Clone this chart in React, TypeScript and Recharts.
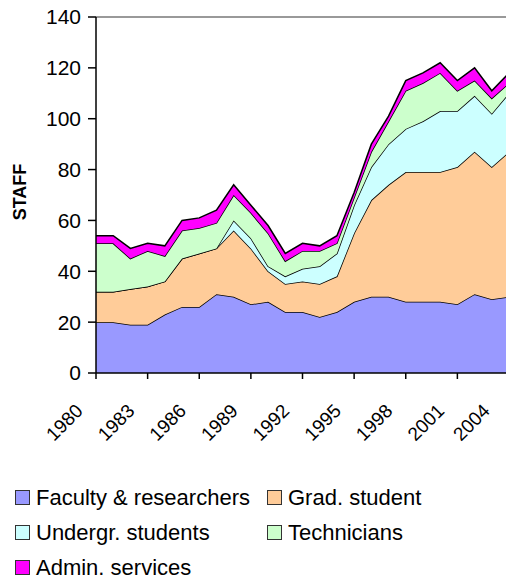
import { AreaChart, Area, XAxis, YAxis, ReferenceLine, Legend } from 'recharts';

const years = [
  1980, 1981, 1982, 1983, 1984, 1985, 1986, 1987, 1988, 1989, 1990, 1991, 1992,
  1993, 1994, 1995, 1996, 1997, 1998, 1999, 2000, 2001, 2002, 2003, 2004,
];
const faculty = [20, 20, 19, 19, 23, 26, 26, 31, 30, 27, 28, 24, 24, 22, 24, 28, 30, 30, 28, 28, 28, 27, 31, 29, 30];
const gradStudents = [12, 12, 14, 15, 13, 19, 21, 18, 26, 22, 12, 11, 12, 13, 14, 27, 38, 44, 51, 51, 51, 54, 56, 52, 57];
const undergrads = [0, 0, 0, 0, 0, 0, 0, 0, 4, 4, 2, 3, 5, 7, 9, 11, 13, 16, 17, 20, 24, 22, 22, 21, 23];
const technicians = [19, 19, 12, 14, 10, 11, 10, 10, 10, 10, 13, 6, 7, 6, 4, 3, 6, 9, 15, 15, 15, 8, 6, 6, 4];
const admin = [3, 3, 4, 3, 4, 4, 4, 5, 4, 3, 3, 3, 3, 2, 3, 2, 3, 2, 4, 4, 4, 4, 5, 3, 4];

const xTicks = [1980, 1983, 1986, 1989, 1992, 1995, 1998, 2001, 2004];
const yTicks = [0, 20, 40, 60, 80, 100, 120, 140];

const series = [
  { key: 'faculty', name: 'Faculty & researchers', color: '#9999ff', values: faculty },
  { key: 'grad', name: 'Grad. student', color: '#ffcc99', values: gradStudents },
  { key: 'undergrad', name: 'Undergr. students', color: '#ccffff', values: undergrads },
  { key: 'tech', name: 'Technicians', color: '#ccffcc', values: technicians },
  { key: 'admin', name: 'Admin. services', color: '#ff00ff', values: admin },
];

const data = years.map((year, i) => {
  const row: Record<string, number> = { year };
  series.forEach((s) => {
    row[s.key] = s.values[i];
  });
  return row;
});

const FONT = '"Liberation Sans", Arial, sans-serif';

function YearTick({ x, y, payload }: any) {
  return (
    <g transform={`translate(${x - 12},${y + 31}) rotate(-45)`}>
      <text textAnchor="end" fontSize={19} fontFamily={FONT} fill="#000">
        {payload.value}
      </text>
    </g>
  );
}

function StaffLabel() {
  return (
    <text
      x={26}
      y={192}
      transform="rotate(-90 26 192)"
      textAnchor="middle"
      fontSize={18}
      fontWeight="bold"
      fontFamily={FONT}
      fill="#000"
    >
      STAFF
    </text>
  );
}

function StaffLegend() {
  return (
    <div
      style={{
        height: 100,
        display: 'grid',
        gridTemplateColumns: '252px 1fr',
        paddingLeft: 15,
        fontFamily: FONT,
        fontSize: 22,
        color: '#000',
        lineHeight: '35px',
      }}
    >
      {series.map((s) => (
        <div key={s.key} style={{ display: 'flex', alignItems: 'center', height: 35, whiteSpace: 'nowrap' }}>
          <span
            style={{
              display: 'inline-block',
              width: 13,
              height: 13,
              background: s.color,
              border: '1px solid #333',
              marginRight: 6,
            }}
          />
          {s.name}
        </div>
      ))}
    </div>
  );
}

export default function App() {
  return (
    <div style={{ position: 'absolute', left: 0, top: 0, width: 506, height: 580, overflow: 'hidden', background: '#fff' }}>
      <AreaChart width={519} height={580} data={data} margin={{ top: 17, right: 10, left: 0, bottom: 0 }}>
        <XAxis
          dataKey="year"
          type="number"
          domain={[1980, 2004]}
          ticks={xTicks}
          tick={<YearTick />}
          tickSize={6}
          tickMargin={2}
          height={107}
          stroke="#000"
          axisLine={{ stroke: '#000', strokeWidth: 1.5 }}
          tickLine={{ stroke: '#000', strokeWidth: 1.5 }}
        />
        <YAxis
          type="number"
          domain={[0, 140]}
          ticks={yTicks}
          width={96}
          tickSize={8}
          tickMargin={7}
          tick={{ fontSize: 21, fontFamily: FONT, fill: '#000' }}
          axisLine={{ stroke: '#000', strokeWidth: 1.5 }}
          tickLine={{ stroke: '#000', strokeWidth: 1.5 }}
          label={<StaffLabel />}
        />
        <ReferenceLine y={140} stroke="#999" strokeWidth={2} />
        {series.map((s) => (
          <Area
            key={s.key}
            dataKey={s.key}
            name={s.name}
            stackId="staff"
            type="linear"
            fill={s.color}
            fillOpacity={1}
            stroke="#000"
            strokeWidth={1.5}
            isAnimationActive={false}
            dot={false}
            activeDot={false}
          />
        ))}
        <Legend verticalAlign="bottom" content={<StaffLegend />} wrapperStyle={{ left: 0, bottom: 0, width: 506 }} />
      </AreaChart>
    </div>
  );
}
